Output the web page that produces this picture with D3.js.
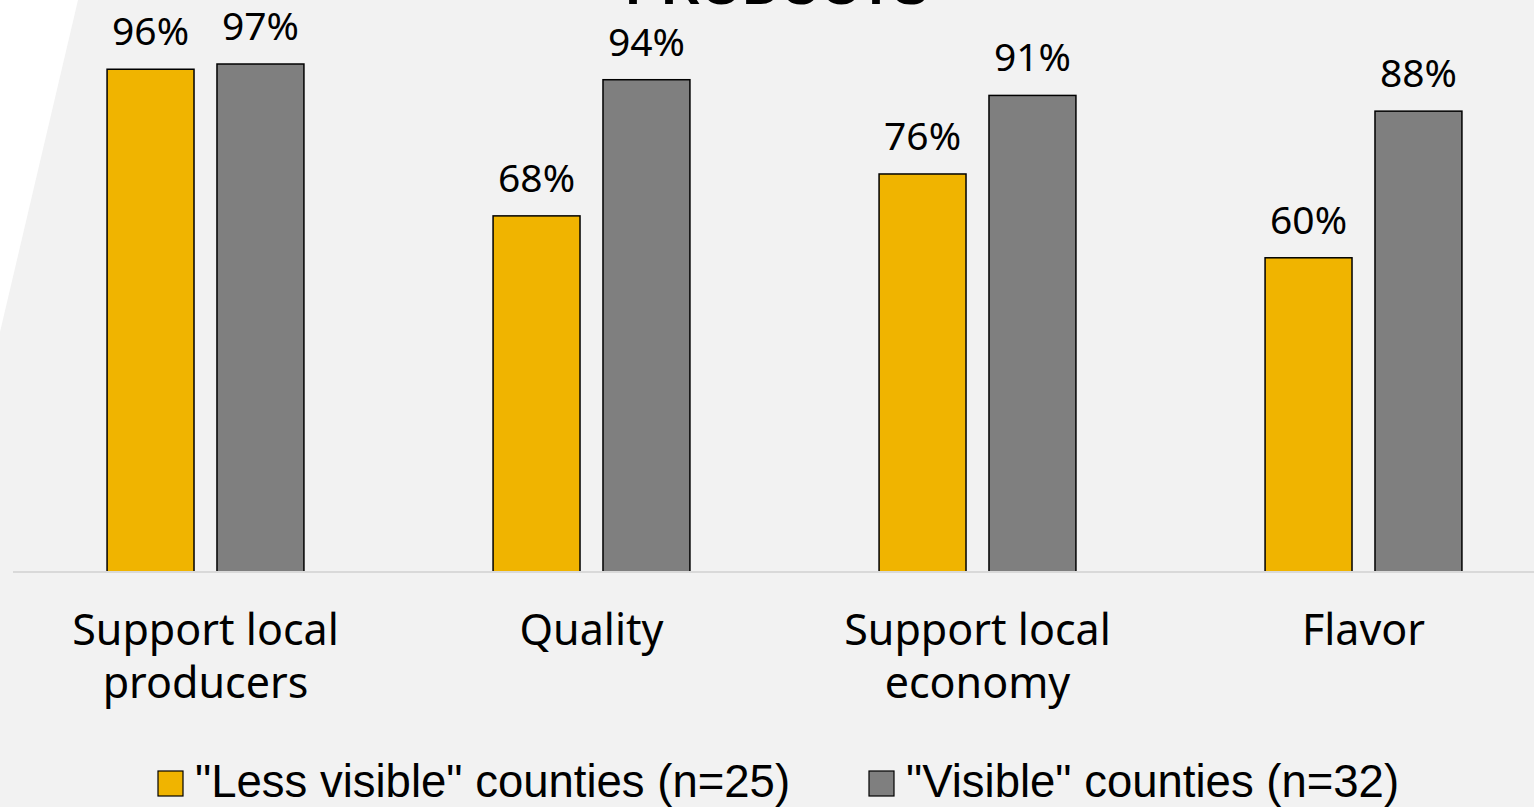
<!DOCTYPE html>
<html>
<head>
<meta charset="utf-8">
<script src="https://cdn.jsdelivr.net/npm/d3@7"></script>
<style>
  html, body { margin: 0; padding: 0; background: #f2f2f2; overflow: hidden; }
</style>
</head>
<body>
<div class="chart-container"></div>
<script>
const categories = ['Support local\nproducers', 'Quality', 'Support local\neconomy', 'Flavor'];
const seriesNames = ['"Less visible" counties (n=25)', '"Visible" counties (n=32)'];
const lessVisible = [96, 68, 76, 60];
const visible = [97, 94, 91, 88];
const seriesColors = ['#f0b400', '#7f7f7f'];
const titleText = 'PRODUCTS';

function build_svg(width, height) {
   const svg = d3.select('.chart-container')
      .append('svg')
      .attr('width', width)
      .attr('height', height);
   svg.append('rect')
      .attr('width', width)
      .attr('height', height)
      .attr('fill', '#f2f2f2');
   // white slanted panel in the top-left corner
   svg.append('path')
      .attr('d', 'M0,0 L78,0 L0,332 Z')
      .attr('fill', '#ffffff');
   return svg;
}

function build_scales() {
   const x0 = d3.scaleBand()
      .domain(categories)
      .range([12.5, 1556.5])
      .paddingInner(0.49)
      .paddingOuter(0.245);
   const x1 = d3.scaleBand()
      .domain(d3.range(seriesNames.length))
      .range([0, x0.bandwidth()])
      .paddingInner(0.209);
   const y = d3.scaleLinear()
      .domain([0, 100])
      .range([572, 48.3]);
   return {x0, x1, y};
}

function draw_bars(svg, s) {
   const rows = categories.map((c, i) => ({
      cat: c,
      vals: [lessVisible[i], visible[i]]
   }));
   const groups = svg.selectAll('.group')
      .data(rows)
      .enter()
      .append('g')
      .attr('class', 'group')
      .attr('transform', d => `translate(${s.x0(d.cat)},0)`);

   groups.selectAll('rect')
      .data(d => d.vals.map((v, k) => ({v, k})))
      .enter()
      .append('rect')
      .attr('x', d => s.x1(d.k))
      .attr('y', d => s.y(d.v))
      .attr('width', s.x1.bandwidth())
      .attr('height', d => s.y(0) - s.y(d.v))
      .attr('fill', d => seriesColors[d.k])
      .attr('stroke', '#000')
      .attr('stroke-width', 1.5);

   groups.selectAll('.val')
      .data(d => d.vals.map((v, k) => ({v, k})))
      .enter()
      .append('text')
      .attr('class', 'val')
      .attr('x', d => s.x1(d.k) + s.x1.bandwidth() / 2)
      .attr('y', d => s.y(d.v) - 24)
      .attr('text-anchor', 'middle')
      .style('font-family', '"Noto Sans", sans-serif')
      .style('font-size', '39px')
      .style('fill', '#000')
      .text(d => d.v + '%');
}

function draw_axis(svg, s) {
   const axis = d3.axisBottom(s.x0).tickSize(0).tickFormat('');
   const g = svg.append('g')
      .attr('transform', `translate(0,${s.y(0)})`)
      .call(axis);
   g.select('.domain')
      .attr('d', 'M13,0H1534')
      .attr('stroke', '#d9d9d9')
      .attr('stroke-width', 2);

   const labels = svg.append('g');
   categories.forEach(c => {
      const t = labels.append('text')
         .attr('x', s.x0(c) + s.x0.bandwidth() / 2)
         .attr('y', 645)
         .attr('text-anchor', 'middle')
         .style('font-family', '"Noto Sans", sans-serif')
         .style('font-size', '43px')
         .style('fill', '#000');
      c.split('\n').forEach((line, i) => {
         t.append('tspan')
            .attr('x', s.x0(c) + s.x0.bandwidth() / 2)
            .attr('dy', i === 0 ? 0 : 53)
            .text(line);
      });
   });
}

function draw_legend(svg) {
   const xs = [158, 869];
   const lg = svg.append('g');
   seriesNames.forEach((name, i) => {
      lg.append('rect')
         .attr('x', xs[i])
         .attr('y', 771)
         .attr('width', 25)
         .attr('height', 25)
         .attr('fill', seriesColors[i])
         .attr('stroke', '#000')
         .attr('stroke-width', 1.2);
      lg.append('text')
         .attr('x', xs[i] + 37)
         .attr('y', 797)
         .style('font-family', '"Liberation Sans", Arial, sans-serif')
         .style('font-size', '45.5px')
         .style('fill', '#000')
         .text(name);
   });
}

function draw_title(svg) {
   svg.append('text')
      .attr('x', 777)
      .attr('y', 4)
      .attr('text-anchor', 'middle')
      .style('font-family', '"Liberation Sans", Arial, sans-serif')
      .style('font-weight', 'bold')
      .style('font-size', '54px')
      .style('fill', '#000')
      .text(titleText);
}

function build_chart() {
   const svg = build_svg(1534, 807);
   const scales = build_scales();
   draw_bars(svg, scales);
   draw_axis(svg, scales);
   draw_legend(svg);
   draw_title(svg);
}

build_chart();
</script>
</body>
</html>
